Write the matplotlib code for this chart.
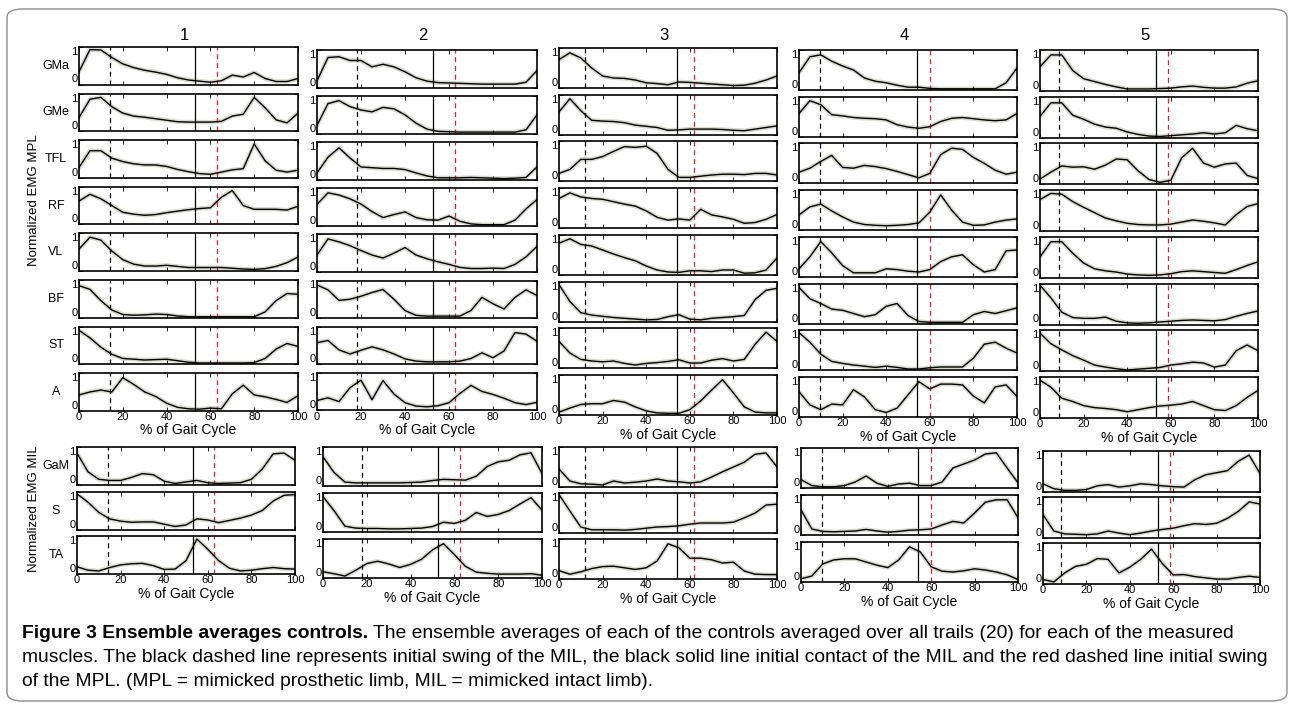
import numpy as np
import matplotlib.pyplot as plt
from matplotlib.patches import FancyBboxPatch

plt.rcParams['font.family'] = ['Liberation Sans', 'DejaVu Sans']

# gait cycle sample points (%), read every 5 %
pct = np.arange(0, 101, 5)

upper_muscles = ['GMa', 'GMe', 'TFL', 'RF', 'VL', 'BF', 'ST', 'A']
lower_muscles = ['GaM', 'S', 'TA']
subjects = ['1', '2', '3', '4', '5']

# event lines per subject: initial swing MIL, initial contact MIL, initial swing MPL
swing_mil = [14, 18, 12, 9.5, 8.5]
contact_mil = [53, 52.5, 54, 54, 53]
swing_mpl = [63, 62.5, 62, 60, 58.5]

# ---- subject 1 ----
s1_GMa = [0.34, 0.93, 0.92, 0.72, 0.55, 0.45, 0.38, 0.33, 0.27, 0.18, 0.12, 0.09, 0.06, 0.1, 0.25, 0.2, 0.32, 0.16, 0.08, 0.08, 0.16]
s1_GMe = [0.36, 0.85, 0.9, 0.65, 0.48, 0.4, 0.37, 0.33, 0.29, 0.25, 0.24, 0.24, 0.24, 0.26, 0.4, 0.45, 0.9, 0.62, 0.3, 0.22, 0.48]
s1_TFL = [0.27, 0.72, 0.72, 0.52, 0.43, 0.37, 0.34, 0.34, 0.3, 0.22, 0.16, 0.11, 0.09, 0.15, 0.21, 0.24, 0.9, 0.45, 0.2, 0.15, 0.2]
s1_RF = [0.62, 0.8, 0.68, 0.5, 0.32, 0.27, 0.24, 0.26, 0.31, 0.35, 0.39, 0.42, 0.44, 0.72, 0.9, 0.5, 0.4, 0.4, 0.4, 0.38, 0.48]
s1_VL = [0.58, 0.9, 0.82, 0.53, 0.3, 0.18, 0.13, 0.13, 0.15, 0.12, 0.09, 0.09, 0.09, 0.09, 0.07, 0.05, 0.04, 0.06, 0.12, 0.22, 0.37]
s1_BF = [0.85, 0.75, 0.45, 0.2, 0.08, 0.06, 0.07, 0.09, 0.08, 0.04, 0.02, 0.02, 0.02, 0.02, 0.02, 0.02, 0.02, 0.15, 0.45, 0.64, 0.62]
s1_ST = [0.9, 0.7, 0.45, 0.26, 0.15, 0.13, 0.11, 0.12, 0.13, 0.09, 0.05, 0.03, 0.03, 0.03, 0.03, 0.03, 0.04, 0.15, 0.4, 0.55, 0.47]
s1_A = [0.42, 0.5, 0.55, 0.5, 0.88, 0.7, 0.5, 0.38, 0.2, 0.09, 0.05, 0.04, 0.07, 0.05, 0.45, 0.68, 0.42, 0.37, 0.3, 0.22, 0.4]
s1_GaM = [0.84, 0.35, 0.15, 0.12, 0.12, 0.2, 0.3, 0.27, 0.1, 0.04, 0.08, 0.12, 0.06, 0.04, 0.05, 0.06, 0.15, 0.42, 0.82, 0.84, 0.65]
s1_S = [0.94, 0.72, 0.45, 0.28, 0.22, 0.19, 0.2, 0.2, 0.14, 0.08, 0.12, 0.28, 0.25, 0.18, 0.24, 0.3, 0.38, 0.5, 0.75, 0.9, 0.92]
s1_TA = [0.19, 0.1, 0.08, 0.17, 0.24, 0.27, 0.28, 0.22, 0.12, 0.13, 0.35, 0.92, 0.65, 0.35, 0.15, 0.08, 0.1, 0.14, 0.17, 0.14, 0.13]

# ---- subject 2 ----
s2_GMa = [0.18, 0.8, 0.82, 0.72, 0.72, 0.55, 0.62, 0.55, 0.42, 0.26, 0.17, 0.13, 0.12, 0.11, 0.1, 0.09, 0.09, 0.09, 0.09, 0.14, 0.45]
s2_GMe = [0.22, 0.8, 0.88, 0.72, 0.63, 0.58, 0.7, 0.66, 0.5, 0.28, 0.12, 0.06, 0.05, 0.04, 0.04, 0.04, 0.04, 0.04, 0.04, 0.1, 0.5]
s2_TFL = [0.18, 0.6, 0.85, 0.58, 0.34, 0.32, 0.3, 0.3, 0.27, 0.18, 0.1, 0.05, 0.05, 0.05, 0.06, 0.05, 0.04, 0.03, 0.04, 0.06, 0.34]
s2_RF = [0.57, 0.88, 0.82, 0.72, 0.58, 0.38, 0.22, 0.3, 0.37, 0.22, 0.16, 0.15, 0.26, 0.12, 0.05, 0.03, 0.03, 0.03, 0.15, 0.45, 0.7]
s2_VL = [0.45, 0.88, 0.8, 0.7, 0.57, 0.45, 0.37, 0.5, 0.65, 0.45, 0.35, 0.27, 0.2, 0.12, 0.09, 0.09, 0.1, 0.09, 0.2, 0.4, 0.68]
s2_BF = [0.88, 0.75, 0.47, 0.5, 0.58, 0.68, 0.76, 0.5, 0.2, 0.07, 0.05, 0.05, 0.05, 0.05, 0.2, 0.55, 0.38, 0.24, 0.55, 0.75, 0.6]
s2_ST = [0.57, 0.63, 0.38, 0.27, 0.37, 0.46, 0.38, 0.27, 0.14, 0.08, 0.06, 0.06, 0.06, 0.08, 0.15, 0.3, 0.17, 0.35, 0.84, 0.8, 0.61]
s2_A = [0.26, 0.33, 0.23, 0.6, 0.8, 0.28, 0.79, 0.43, 0.2, 0.11, 0.09, 0.12, 0.2, 0.45, 0.66, 0.5, 0.42, 0.32, 0.2, 0.15, 0.21]
s2_GaM = [0.75, 0.35, 0.1, 0.08, 0.08, 0.08, 0.08, 0.08, 0.09, 0.1, 0.14, 0.17, 0.16, 0.15, 0.25, 0.5, 0.62, 0.66, 0.8, 0.85, 0.32]
s2_S = [0.91, 0.55, 0.15, 0.1, 0.09, 0.09, 0.08, 0.08, 0.09, 0.1, 0.14, 0.25, 0.22, 0.3, 0.5, 0.4, 0.45, 0.55, 0.72, 0.88, 0.56]
s2_TA = [0.16, 0.11, 0.05, 0.2, 0.37, 0.43, 0.36, 0.27, 0.35, 0.48, 0.72, 0.88, 0.6, 0.3, 0.15, 0.12, 0.1, 0.1, 0.1, 0.11, 0.07]

# ---- subject 3 ----
s3_GMa = [0.71, 0.88, 0.75, 0.5, 0.3, 0.25, 0.24, 0.2, 0.13, 0.11, 0.08, 0.15, 0.14, 0.12, 0.1, 0.08, 0.06, 0.07, 0.12, 0.2, 0.3]
s3_GMe = [0.57, 0.9, 0.6, 0.36, 0.34, 0.33, 0.3, 0.24, 0.21, 0.18, 0.11, 0.12, 0.14, 0.14, 0.14, 0.13, 0.11, 0.1, 0.14, 0.18, 0.22]
s3_TFL = [0.2, 0.3, 0.55, 0.55, 0.62, 0.75, 0.87, 0.85, 0.88, 0.7, 0.3, 0.1, 0.1, 0.13, 0.16, 0.18, 0.18, 0.17, 0.2, 0.2, 0.16]
s3_RF = [0.74, 0.88, 0.78, 0.74, 0.72, 0.66, 0.6, 0.55, 0.43, 0.27, 0.2, 0.23, 0.2, 0.47, 0.33, 0.28, 0.22, 0.12, 0.14, 0.22, 0.34]
s3_VL = [0.79, 0.9, 0.76, 0.72, 0.62, 0.52, 0.43, 0.35, 0.22, 0.12, 0.07, 0.06, 0.1, 0.1, 0.08, 0.12, 0.12, 0.04, 0.05, 0.12, 0.42]
s3_BF = [0.92, 0.5, 0.22, 0.16, 0.13, 0.1, 0.08, 0.06, 0.04, 0.05, 0.12, 0.17, 0.06, 0.04, 0.08, 0.1, 0.12, 0.15, 0.55, 0.78, 0.83]
s3_ST = [0.67, 0.38, 0.22, 0.18, 0.16, 0.18, 0.12, 0.08, 0.12, 0.14, 0.17, 0.21, 0.13, 0.13, 0.2, 0.24, 0.18, 0.22, 0.6, 0.9, 0.67]
s3_A = [0.07, 0.17, 0.26, 0.28, 0.28, 0.36, 0.32, 0.2, 0.1, 0.05, 0.04, 0.04, 0.13, 0.35, 0.62, 0.88, 0.55, 0.2, 0.07, 0.05, 0.05]
s3_GaM = [0.45, 0.15, 0.08, 0.07, 0.05, 0.15, 0.1, 0.12, 0.15, 0.2, 0.15, 0.13, 0.1, 0.13, 0.25, 0.38, 0.5, 0.62, 0.82, 0.85, 0.5]
s3_S = [0.96, 0.55, 0.15, 0.08, 0.08, 0.08, 0.07, 0.09, 0.12, 0.15, 0.16, 0.18, 0.22, 0.25, 0.25, 0.25, 0.27, 0.38, 0.5, 0.7, 0.72]
s3_TA = [0.21, 0.12, 0.18, 0.26, 0.31, 0.32, 0.28, 0.24, 0.28, 0.45, 0.88, 0.78, 0.52, 0.52, 0.48, 0.4, 0.42, 0.2, 0.12, 0.11, 0.11]

# ---- subject 4 ----
s4_GMa = [0.43, 0.83, 0.88, 0.72, 0.6, 0.5, 0.3, 0.22, 0.18, 0.12, 0.07, 0.07, 0.04, 0.03, 0.03, 0.03, 0.03, 0.03, 0.03, 0.18, 0.55]
s4_GMe = [0.58, 0.9, 0.8, 0.55, 0.52, 0.48, 0.46, 0.45, 0.42, 0.3, 0.24, 0.21, 0.25, 0.38, 0.46, 0.48, 0.45, 0.42, 0.4, 0.42, 0.58]
s4_TFL = [0.28, 0.38, 0.55, 0.7, 0.4, 0.38, 0.45, 0.42, 0.37, 0.3, 0.22, 0.14, 0.25, 0.72, 0.88, 0.85, 0.65, 0.5, 0.33, 0.23, 0.28]
s4_RF = [0.38, 0.58, 0.65, 0.48, 0.33, 0.2, 0.14, 0.12, 0.11, 0.12, 0.14, 0.18, 0.45, 0.88, 0.5, 0.2, 0.12, 0.13, 0.2, 0.25, 0.28]
s4_VL = [0.2, 0.5, 0.88, 0.6, 0.28, 0.1, 0.1, 0.1, 0.2, 0.18, 0.14, 0.12, 0.18, 0.38, 0.5, 0.55, 0.3, 0.12, 0.18, 0.65, 0.67]
s4_BF = [0.9, 0.62, 0.5, 0.36, 0.33, 0.25, 0.17, 0.22, 0.43, 0.5, 0.2, 0.05, 0.03, 0.03, 0.03, 0.03, 0.22, 0.3, 0.25, 0.32, 0.39]
s4_ST = [0.94, 0.7, 0.4, 0.22, 0.17, 0.13, 0.1, 0.07, 0.1, 0.07, 0.03, 0.03, 0.06, 0.08, 0.08, 0.08, 0.3, 0.65, 0.7, 0.55, 0.43]
s4_A = [0.63, 0.3, 0.18, 0.32, 0.3, 0.68, 0.5, 0.18, 0.11, 0.22, 0.55, 0.88, 0.7, 0.82, 0.82, 0.8, 0.52, 0.35, 0.75, 0.8, 0.51]
s4_GaM = [0.21, 0.06, 0.03, 0.03, 0.06, 0.15, 0.3, 0.12, 0.04, 0.1, 0.12, 0.06, 0.06, 0.15, 0.5, 0.6, 0.7, 0.85, 0.88, 0.5, 0.13]
s4_S = [0.63, 0.15, 0.09, 0.08, 0.09, 0.1, 0.14, 0.1, 0.07, 0.09, 0.12, 0.13, 0.15, 0.25, 0.34, 0.3, 0.55, 0.82, 0.88, 0.88, 0.43]
s4_TA = [0.08, 0.15, 0.45, 0.55, 0.58, 0.58, 0.5, 0.42, 0.36, 0.55, 0.88, 0.75, 0.38, 0.27, 0.25, 0.28, 0.33, 0.3, 0.25, 0.18, 0.06]

# ---- subject 5 ----
s5_GMa = [0.59, 0.88, 0.88, 0.5, 0.3, 0.23, 0.16, 0.1, 0.05, 0.05, 0.05, 0.06, 0.07, 0.1, 0.12, 0.09, 0.07, 0.07, 0.1, 0.19, 0.25]
s5_GMe = [0.52, 0.85, 0.85, 0.55, 0.45, 0.33, 0.26, 0.23, 0.14, 0.08, 0.04, 0.03, 0.05, 0.07, 0.09, 0.12, 0.09, 0.12, 0.3, 0.22, 0.17]
s5_TFL = [0.13, 0.3, 0.45, 0.42, 0.43, 0.37, 0.47, 0.62, 0.6, 0.33, 0.12, 0.05, 0.1, 0.65, 0.88, 0.52, 0.42, 0.5, 0.52, 0.22, 0.14]
s5_RF = [0.77, 0.92, 0.9, 0.72, 0.58, 0.45, 0.32, 0.25, 0.19, 0.16, 0.15, 0.15, 0.17, 0.22, 0.27, 0.24, 0.2, 0.15, 0.4, 0.6, 0.67]
s5_VL = [0.51, 0.88, 0.88, 0.6, 0.36, 0.22, 0.17, 0.14, 0.09, 0.07, 0.06, 0.07, 0.1, 0.15, 0.17, 0.15, 0.13, 0.11, 0.2, 0.3, 0.39]
s5_BF = [0.96, 0.65, 0.3, 0.17, 0.15, 0.15, 0.18, 0.08, 0.04, 0.03, 0.04, 0.06, 0.08, 0.1, 0.11, 0.1, 0.09, 0.12, 0.2, 0.27, 0.33]
s5_ST = [0.93, 0.67, 0.52, 0.38, 0.27, 0.15, 0.1, 0.06, 0.03, 0.05, 0.07, 0.09, 0.15, 0.18, 0.22, 0.2, 0.1, 0.15, 0.5, 0.64, 0.5]
s5_A = [0.92, 0.75, 0.48, 0.4, 0.3, 0.25, 0.23, 0.2, 0.15, 0.2, 0.25, 0.29, 0.31, 0.34, 0.4, 0.3, 0.2, 0.18, 0.3, 0.5, 0.67]
s5_GaM = [0.2, 0.08, 0.04, 0.04, 0.06, 0.15, 0.18, 0.12, 0.15, 0.2, 0.18, 0.15, 0.13, 0.12, 0.3, 0.42, 0.47, 0.52, 0.75, 0.9, 0.45]
s5_S = [0.57, 0.17, 0.1, 0.09, 0.08, 0.1, 0.17, 0.12, 0.08, 0.12, 0.17, 0.21, 0.24, 0.3, 0.35, 0.33, 0.36, 0.48, 0.65, 0.88, 0.83]
s5_TA = [0.11, 0.05, 0.27, 0.43, 0.48, 0.62, 0.6, 0.27, 0.41, 0.6, 0.85, 0.5, 0.22, 0.23, 0.18, 0.15, 0.12, 0.12, 0.16, 0.19, 0.16]

upper_data = [
    [s1_GMa, s1_GMe, s1_TFL, s1_RF, s1_VL, s1_BF, s1_ST, s1_A],
    [s2_GMa, s2_GMe, s2_TFL, s2_RF, s2_VL, s2_BF, s2_ST, s2_A],
    [s3_GMa, s3_GMe, s3_TFL, s3_RF, s3_VL, s3_BF, s3_ST, s3_A],
    [s4_GMa, s4_GMe, s4_TFL, s4_RF, s4_VL, s4_BF, s4_ST, s4_A],
    [s5_GMa, s5_GMe, s5_TFL, s5_RF, s5_VL, s5_BF, s5_ST, s5_A],
]
lower_data = [
    [s1_GaM, s1_S, s1_TA],
    [s2_GaM, s2_S, s2_TA],
    [s3_GaM, s3_S, s3_TA],
    [s4_GaM, s4_S, s4_TA],
    [s5_GaM, s5_S, s5_TA],
]

# ---- layout (pixels) ----
W, H = 1292, 707
up_left = [79, 317, 559, 799, 1040]
up_right = [298, 537, 777, 1017, 1258]
up_top = [47, 50, 48, 50, 50]
up_pitch = [46.6, 46.1, 46.7, 46.7, 46.7]
up_h = [37.5, 37.5, 40, 40, 41]
lo_left = [77, 323, 559, 801, 1043]
lo_right = [295, 542, 777, 1018, 1260]
lo_top = [447, 447, 447, 448, 451]
lo_pitch = [44.5, 46, 46, 47, 46]
lo_h = [38, 39, 40, 40, 41]
xmin = [0, 0, 1, 1, 1]

fig = plt.figure(figsize=(W / 100, H / 100), dpi=100)


def px_axes(x0, x1, ytop, h):
    return fig.add_axes([x0 / W, 1 - (ytop + h) / H, (x1 - x0) / W, h / H])


def draw_panel(ax, y, c, show_x):
    ax.plot(pct, y, color='#d9d9d2', lw=3.2, solid_capstyle='round', zorder=1)
    ax.plot(pct, y, color='black', lw=1.0, zorder=3)
    ax.axvline(swing_mil[c], color='black', ls=(0, (4, 3)), lw=0.9, zorder=2)
    ax.axvline(contact_mil[c], color='black', lw=0.9, zorder=2)
    ax.axvline(swing_mpl[c], color='#e5202a', ls=(0, (4, 3)), lw=0.9, zorder=2)
    ax.set_xlim(xmin[c], 100)
    ax.set_ylim(0, 1)
    ax.set_xticks([0, 20, 40, 60, 80, 100])
    ax.set_yticks([0, 1])
    ax.set_yticklabels(['0', '1'])
    ax.tick_params(direction='in', top=True, right=True, length=3, width=0.6,
                   labelsize=8, pad=1)
    ylabs = ax.get_yticklabels()
    ylabs[0].set_va('bottom')
    ylabs[1].set_va('top')
    if not show_x:
        ax.tick_params(labelbottom=False)
    else:
        ax.set_xlabel('% of Gait Cycle', fontsize=10, labelpad=1)
    for sp in ax.spines.values():
        sp.set_linewidth(1.2)


for c in range(5):
    for r, name in enumerate(upper_muscles):
        ytop = up_top[c] + r * up_pitch[c]
        ax = px_axes(up_left[c], up_right[c], ytop, up_h[c])
        draw_panel(ax, upper_data[c][r], c, r == len(upper_muscles) - 1)
        if c == 0:
            fig.text(56 / W, 1 - (ytop + up_h[c] * 0.5) / H, name,
                     ha='center', va='center', fontsize=9)
    for r, name in enumerate(lower_muscles):
        ytop = lo_top[c] + r * lo_pitch[c]
        ax = px_axes(lo_left[c], lo_right[c], ytop, lo_h[c])
        draw_panel(ax, lower_data[c][r], c, r == len(lower_muscles) - 1)
        if c == 0:
            fig.text(56 / W, 1 - (ytop + lo_h[c] * 0.5) / H, name,
                     ha='center', va='center', fontsize=9)
    fig.text((up_left[c] + up_right[c]) / 2 / W - 4 / W, 1 - 36 / H, subjects[c],
             ha='center', va='center', fontsize=12)

fig.text(34 / W, 1 - 200 / H, 'Normalized EMG MPL', rotation=90,
         ha='center', va='center', fontsize=9.5)
fig.text(34 / W, 1 - 509 / H, 'Normalized EMG MIL', rotation=90,
         ha='center', va='center', fontsize=9.5)

# rounded frame
frame = FancyBboxPatch((7 / W, 1 - 701 / H), 1280 / W, 692 / H,
                       boxstyle='round,pad=0,rounding_size=0.012',
                       transform=fig.transFigure, fill=False,
                       edgecolor='#8c8c8c', lw=1.0)
fig.add_artist(frame)

# caption
cap_font = ['Liberation Sans Narrow', 'Liberation Sans', 'DejaVu Sans']
line1_bold = 'Figure 3 Ensemble averages controls.'
line1 = ' The ensemble averages of each of the controls averaged over all trails (20) for each of the measured'
line2 = ('muscles. The black dashed line represents initial swing of the MIL, the black solid line '
         'initial contact of the MIL and the red dashed line initial swing')
line3 = 'of the MPL. (MPL = mimicked prosthetic limb, MIL = mimicked intact limb).'

fig.canvas.draw()
renderer = fig.canvas.get_renderer()
probe = fig.text(22 / W, 1 - 657 / H, line2, fontsize=12, family=cap_font, va='center')
wpx = probe.get_window_extent(renderer).width
fs = 12 * 1246 / wpx
probe.set_fontsize(fs)

tb = fig.text(22 / W, 1 - 633 / H, line1_bold, fontsize=fs, family=cap_font,
              weight='bold', va='center')
bx = tb.get_window_extent(renderer).x1
fig.text(bx / W, 1 - 633 / H, line1, fontsize=fs, family=cap_font, va='center')
fig.text(22 / W, 1 - 681 / H, line3, fontsize=fs, family=cap_font, va='center')

fig.savefig('out.png', dpi=100)
